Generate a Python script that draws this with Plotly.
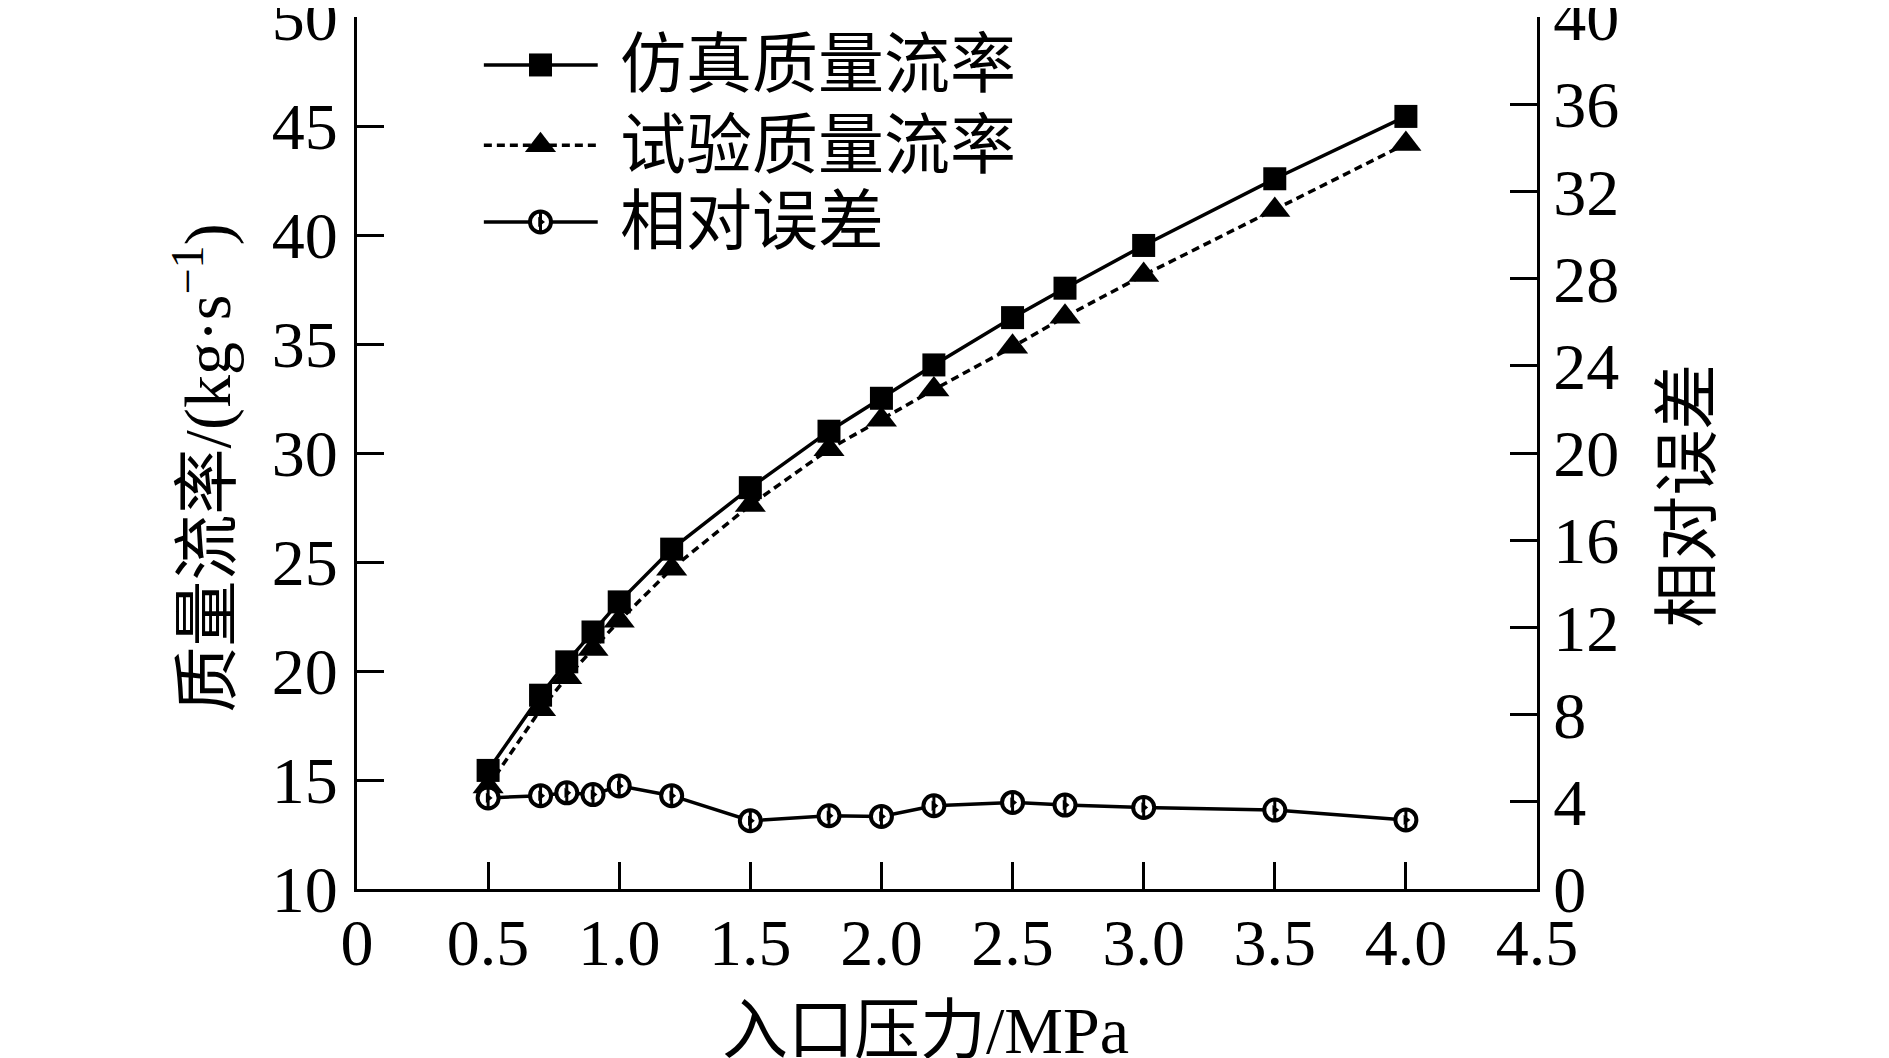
import plotly.graph_objects as go

# ---- data ----
pressure = [0.5, 0.7, 0.8, 0.9, 1.0, 1.2, 1.5, 1.8, 2.0, 2.2, 2.5, 2.7, 3.0, 3.5, 4.0]
sim_flow = [15.44, 18.89, 20.42, 21.79, 23.17, 25.59, 28.41, 31.0, 32.51,
            34.04, 36.21, 37.56, 39.52, 42.58, 45.44]
test_flow = [14.7, 18.24, 19.71, 21.01, 22.3, 24.69, 27.61, 30.17, 31.52,
             32.91, 34.87, 36.25, 38.16, 41.15, 44.18]
rel_error = [4.18, 4.28, 4.41, 4.33, 4.73, 4.28, 3.13, 3.36, 3.33,
             3.82, 3.97, 3.85, 3.74, 3.62, 3.17]

x_ticks = [0, 0.5, 1.0, 1.5, 2.0, 2.5, 3.0, 3.5, 4.0, 4.5]
x_ticktext = ["0", "0.5", "1.0", "1.5", "2.0", "2.5", "3.0", "3.5", "4.0", "4.5"]
legend_names = ["仿真质量流率", "试验质量流率", "相对误差"]

FONT = "Liberation Serif, Noto Sans CJK SC"
FS = 66
BLACK = "black"
LW = 3.5


def error_marker_traces(x, y, xaxis, yaxis, size=21):
    """circle with a bar and a small right triangle inside"""
    return [
        go.Scatter(x=x, y=y, xaxis=xaxis, yaxis=yaxis, mode="markers",
                   marker=dict(symbol="circle", size=size, color="white",
                               line=dict(color=BLACK, width=4)),
                   showlegend=False, hoverinfo="skip"),
        go.Scatter(x=x, y=y, xaxis=xaxis, yaxis=yaxis, mode="markers",
                   marker=dict(symbol="triangle-right", size=9, color=BLACK,
                               line=dict(width=0)),
                   showlegend=False, hoverinfo="skip"),
        go.Scatter(x=x, y=y, xaxis=xaxis, yaxis=yaxis, mode="markers",
                   marker=dict(symbol="line-ns", size=16,
                               line=dict(color=BLACK, width=3)),
                   showlegend=False, hoverinfo="skip"),
    ]


def text(s, x, y, angle=0, anchor="center"):
    fig.add_annotation(x=x, y=y, xref="paper", yref="paper", text=s, textangle=angle,
                       showarrow=False, xanchor=anchor, yanchor="middle",
                       font=dict(family=FONT, size=FS, color=BLACK))


fig = go.Figure()

# error line (right axis)
fig.add_trace(go.Scatter(x=pressure, y=rel_error, yaxis="y2", mode="lines",
                         line=dict(color=BLACK, width=LW), showlegend=False))
for t in error_marker_traces(pressure, rel_error, "x", "y2"):
    fig.add_trace(t)

# test flow
fig.add_trace(go.Scatter(x=pressure, y=test_flow, mode="lines+markers",
                         line=dict(color=BLACK, width=LW, dash="8px,5px"),
                         marker=dict(symbol="triangle-up", size=27, color=BLACK),
                         showlegend=False))
# simulated flow
fig.add_trace(go.Scatter(x=pressure, y=sim_flow, mode="lines+markers",
                         line=dict(color=BLACK, width=LW),
                         marker=dict(symbol="square", size=23, color=BLACK),
                         showlegend=False))

# ---- hand drawn legend on a hidden 0..1 overlay axis ----
rows = [0.945, 0.853, 0.765]
lx = [0.1075, 0.1555, 0.204]
styles = [
    dict(dash="solid", symbol="square", size=23),
    dict(dash="8px,5px", symbol="triangle-up", size=27),
    dict(dash="solid", symbol=None, size=0),
]
for name, r, st in zip(legend_names, rows, styles):
    fig.add_trace(go.Scatter(x=[lx[0], lx[2]], y=[r, r], xaxis="x3", yaxis="y3",
                             mode="lines", line=dict(color=BLACK, width=LW, dash=st["dash"]),
                             showlegend=False, hoverinfo="skip"))
    if st["symbol"]:
        fig.add_trace(go.Scatter(x=[lx[1]], y=[r], xaxis="x3", yaxis="y3", mode="markers",
                                 marker=dict(symbol=st["symbol"], size=st["size"], color=BLACK),
                                 showlegend=False, hoverinfo="skip"))
    else:
        for t in error_marker_traces([lx[1]], [r], "x3", "y3"):
            fig.add_trace(t)
    text(name, 0.2215, r, anchor="left")

# axis titles placed as text so they sit where the reference has them
text("入口压力/MPa", 0.482, -0.162)
text("质量流率/(kg·s<sup>−1</sup>)", -0.13, 0.483, angle=-90)
text("相对误差", 1.128, 0.451, angle=-90)

axis_common = dict(showline=True, linecolor=BLACK, linewidth=3, ticks="inside",
                   ticklen=27, tickwidth=3, tickcolor=BLACK, showgrid=False,
                   zeroline=False, ticklabeloverflow="allow",
                   tickfont=dict(family=FONT, size=FS, color=BLACK))

fig.update_layout(
    width=1889, height=1058,
    paper_bgcolor="white", plot_bgcolor="white",
    margin=dict(l=349, r=360, t=9, b=177, autoexpand=False),
    font=dict(family=FONT, size=FS, color=BLACK),
    xaxis=dict(range=[0, 4.5], tickvals=x_ticks, ticktext=x_ticktext,
               ticklabelstandoff=-6, **axis_common),
    yaxis=dict(range=[10, 50], tickvals=list(range(10, 51, 5)),
               ticklabelstandoff=3, **axis_common),
    yaxis2=dict(range=[0, 40], tickvals=list(range(0, 41, 4)), overlaying="y",
                side="right", **axis_common),
    xaxis3=dict(range=[0, 1], overlaying="x", visible=False),
    yaxis3=dict(range=[0, 1], overlaying="y", visible=False),
)

fig.write_html("out.html")
